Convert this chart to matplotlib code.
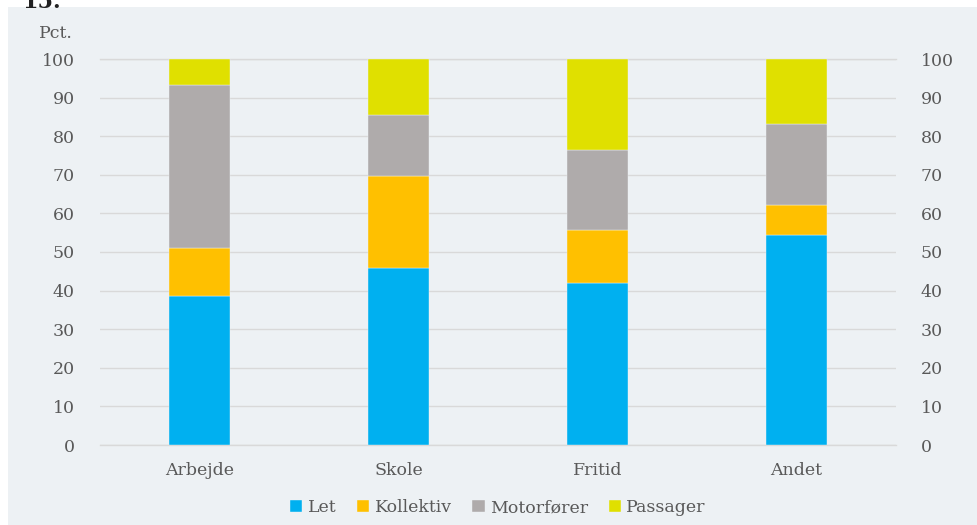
import matplotlib.pyplot as plt
import numpy as np

categories = ['Arbejde', 'Skole', 'Fritid', 'Andet']
let = [38.7, 45.9, 41.9, 54.5]
kollektiv = [12.3, 23.7, 13.7, 7.6]
motorforer = [42.3, 16.0, 20.7, 21.1]
passager = [6.7, 14.4, 23.7, 16.8]

series_names = ['Let', 'Kollektiv', 'Motorfører', 'Passager']
colors = ['#00b0f0', '#ffc000', '#afabab', '#e0e000']
yticks = list(range(0, 101, 10))

plt.rcParams['font.family'] = ['DejaVu Serif']
txt = '#595959'
bg = '#edf1f4'

fig = plt.figure(figsize=(9.78, 5.25), dpi=100)
fig.patches.append(plt.Rectangle((8 / 978, 0), 1, 1 - 7 / 525, transform=fig.transFigure,
                                 facecolor=bg, edgecolor='none', zorder=-10))
# chapter number, cut off at the top like in the source
fig.text(22 / 978, 1 - 2 / 525, '15.', fontsize=16, fontweight='bold', color='#222222',
         va='center', ha='left')

ax = fig.add_axes([100 / 978, 1 - 445 / 525, 796 / 978, 386 / 525])
ax.set_facecolor('none')

x = np.arange(len(categories))
bottom = np.zeros(len(categories))
for name, vals, c in zip(series_names, [let, kollektiv, motorforer, passager], colors):
    ax.bar(x, vals, width=0.31, bottom=bottom, color=c, label=name, zorder=3,
           edgecolor=bg, linewidth=0.3)
    bottom += np.array(vals)

ax.set_xlim(-0.5, 3.5)
ax.set_ylim(0, 100)
ax.set_yticks(yticks)
ax.set_xticks(x)
ax.set_xticklabels(categories)
ax.grid(axis='y', color='#d9d9d9', linewidth=1, zorder=0)
for yv in (0, 100):
    ax.axhline(yv, color='#d9d9d9', linewidth=1, zorder=0, clip_on=False)
for s in ax.spines.values():
    s.set_visible(False)
ax.tick_params(length=0, colors=txt, labelsize=12.5)
ax.tick_params(axis='y', pad=18)
ax.tick_params(axis='x', pad=12)

ax2 = ax.twinx()
ax2.set_ylim(0, 100)
ax2.set_yticks(yticks)
for s in ax2.spines.values():
    s.set_visible(False)
ax2.tick_params(length=0, colors=txt, labelsize=12.5, pad=18)

fig.text(56 / 978, 1 - 34 / 525, 'Pct.', fontsize=12.5, color=txt, ha='center', va='center')

leg = ax.legend(loc='upper center', bbox_to_anchor=(0.5, -0.1), ncol=4, frameon=False,
                fontsize=12.5, handlelength=0.7, handleheight=0.7, handletextpad=0.3,
                columnspacing=1.2, labelcolor=txt)

fig.savefig('out.png', dpi=100)
